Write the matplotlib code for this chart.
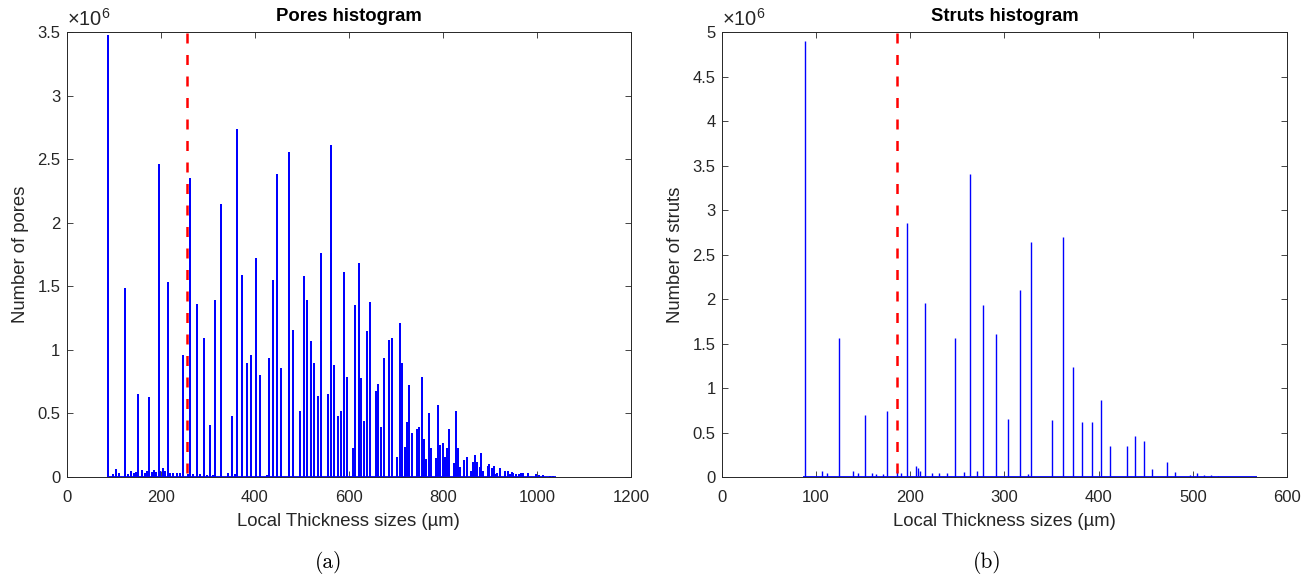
import matplotlib
matplotlib.use('Agg')
import matplotlib.pyplot as plt
from matplotlib.ticker import FuncFormatter, MultipleLocator

plt.rcParams['font.family'] = ['Liberation Sans', 'DejaVu Sans']
plt.rcParams['mathtext.fontset'] = 'custom'
plt.rcParams['mathtext.rm'] = 'Liberation Sans'

# --- Pores histogram: bin centre (um) and count (millions) ---
pores_sizes = [87, 99, 105.5, 112, 124, 130, 137, 143, 148, 152, 159.5, 166, 171.5, 175,
               180.5, 185.6, 191, 196, 199, 205.5, 210, 215, 220, 227, 234, 241, 248, 259,
               263, 269, 277, 283, 291, 298, 304, 312, 316, 328, 344, 351, 357, 362, 373,
               383, 392, 402, 412, 425, 430, 438, 448, 456, 472, 481, 496, 505, 512, 519,
               527, 534, 541, 555, 562, 569, 576, 583, 589, 596, 608, 614, 621, 627, 633,
               639, 645, 657, 663, 669, 674, 686, 691, 702, 708, 713, 719, 724, 729, 734,
               745, 750, 755, 760, 765, 770, 775, 785, 789, 795, 800, 805, 809, 814, 823,
               827, 832, 837, 846, 851, 860, 864, 869, 873, 878, 882, 886, 895, 899, 904,
               908, 912, 916, 921, 933, 938, 942, 946, 950, 955, 962, 966, 970, 982, 998,
               1005, 1012, 1028, 1034]
pores_counts = [3.48, 0.02, 0.06, 0.035, 1.49, 0.026, 0.047, 0.034, 0.037, 0.65, 0.058, 0.034,
                0.045, 0.63, 0.042, 0.058, 0.037, 2.46, 0.045, 0.074, 0.047, 1.53, 0.034,
                0.029, 0.034, 0.032, 0.96, 0.026, 2.35, 0.026, 1.36, 0.024, 1.09, 0.018, 0.41,
                0.018, 1.39, 2.15, 0.034, 0.48, 0.021, 2.74, 1.59, 0.90, 0.96, 1.72, 0.80,
                0.013, 0.94, 1.55, 2.38, 0.86, 2.56, 1.16, 0.52, 1.58, 1.39, 1.07, 0.90, 0.64,
                1.76, 0.65, 2.61, 0.88, 0.48, 0.52, 1.61, 0.79, 0.23, 1.35, 1.68, 0.78, 0.44,
                1.15, 1.38, 0.68, 0.73, 0.39, 0.94, 1.08, 1.09, 0.16, 1.21, 0.90, 0.24, 0.43,
                0.72, 0.35, 0.38, 0.39, 0.79, 0.30, 0.14, 0.50, 0.23, 0.15, 0.57, 0.25, 0.27,
                0.16, 0.23, 0.38, 0.11, 0.52, 0.23, 0.08, 0.13, 0.16, 0.05, 0.12, 0.17, 0.12,
                0.08, 0.19, 0.05, 0.09, 0.10, 0.07, 0.09, 0.02, 0.03, 0.07, 0.05, 0.05, 0.02,
                0.04, 0.03, 0.02, 0.02, 0.03, 0.03, 0.03, 0.02, 0.015, 0.015, 0.01, 0.01]
pores_range = (86, 1040)
pores_threshold = 256

# --- Struts histogram ---
struts_sizes = [88, 106.5, 112, 124.4, 138.8, 144, 152.4, 159, 164, 170.5, 175.5, 186.2, 190,
                196.4, 205.7, 208, 210, 215.1, 223.5, 231, 239.5, 248, 257, 263.3, 270.5,
                277.5, 291.3, 304, 316.4, 324.9, 328.2, 351, 361.8, 372.4, 382.6, 392.5,
                402.1, 411.7, 430, 438.9, 447.8, 456.3, 472.6, 480.7, 496.6, 504, 511.5,
                519, 526.6]
struts_counts = [4.895, 0.07, 0.04, 1.56, 0.07, 0.04, 0.70, 0.04, 0.035, 0.03, 0.74, 0.08,
                 0.05, 2.85, 0.12, 0.10, 0.065, 1.96, 0.04, 0.05, 0.05, 1.56, 0.055, 3.41,
                 0.065, 1.93, 1.61, 0.65, 2.10, 0.03, 2.64, 0.64, 2.70, 1.24, 0.62, 0.62,
                 0.87, 0.35, 0.35, 0.46, 0.41, 0.09, 0.17, 0.06, 0.02, 0.05, 0.026, 0.02,
                 0.01]
struts_range = (86, 568)
struts_threshold = 185.5

AX_COL = '#262626'


def draw_panel(ax, sizes, counts, span, thr, xmax, ymax, bar_lw, crisp, title, ylabel):
    vals = [c * 1e6 for c in counts]
    ax.hlines(0, span[0], span[1], color='blue', lw=1.3, zorder=2)
    # thin histogram bars
    ax.vlines(sizes, 0, vals, colors='blue', lw=bar_lw, antialiased=not crisp, zorder=3)
    ax.plot([thr, thr], [ymax * 0.998, 0], color='red', lw=1.8,
            ls=(0, (4, 4.6)), zorder=4)
    ax.set_xlim(0, xmax)
    ax.set_ylim(0, ymax)
    ax.yaxis.set_major_locator(MultipleLocator(0.5e6))
    ax.yaxis.set_major_formatter(FuncFormatter(lambda v, p: f'{v / 1e6:g}'))
    ax.tick_params(direction='in', top=True, right=True, length=4, width=0.6,
                   colors=AX_COL, labelsize=12)
    ax.tick_params(axis='x', pad=9)
    ax.tick_params(axis='y', pad=4.5)
    for s in ax.spines.values():
        s.set_color(AX_COL)
        s.set_linewidth(0.7)
    ax.set_title(title, fontsize=13.3, fontweight='bold', color='black', pad=8)
    ax.set_xlabel('Local Thickness sizes (µm)', fontsize=13.3, color=AX_COL, labelpad=6)
    ax.set_ylabel(ylabel, fontsize=13.3, color=AX_COL, labelpad=6)
    ax.text(0, 1.004, r'$\times\mathregular{10^6}$', transform=ax.transAxes,
            ha='left', va='bottom', fontsize=14.5, color=AX_COL)


fig = plt.figure(figsize=(13.15, 5.75), dpi=100)
ax1 = fig.add_axes([0.0507, 0.1704, 0.4291, 0.7739])
ax2 = fig.add_axes([0.549, 0.1704, 0.4297, 0.7739])

draw_panel(ax1, pores_sizes, pores_counts, pores_range, pores_threshold,
           1200, 3.5e6, 1.44, True, 'Pores histogram', 'Number of pores')
ax1.xaxis.set_major_locator(MultipleLocator(200))
draw_panel(ax2, struts_sizes, struts_counts, struts_range, struts_threshold,
           600, 5e6, 1.0, False, 'Struts histogram', 'Number of struts')
ax2.xaxis.set_major_locator(MultipleLocator(100))

fig.text(0.250, 0.021, '(a)', family='cmr10', fontsize=15.5, ha='center', va='center')
fig.text(0.7506, 0.021, '(b)', family='cmr10', fontsize=15.5, ha='center', va='center')

fig.savefig('out.png', dpi=100)
